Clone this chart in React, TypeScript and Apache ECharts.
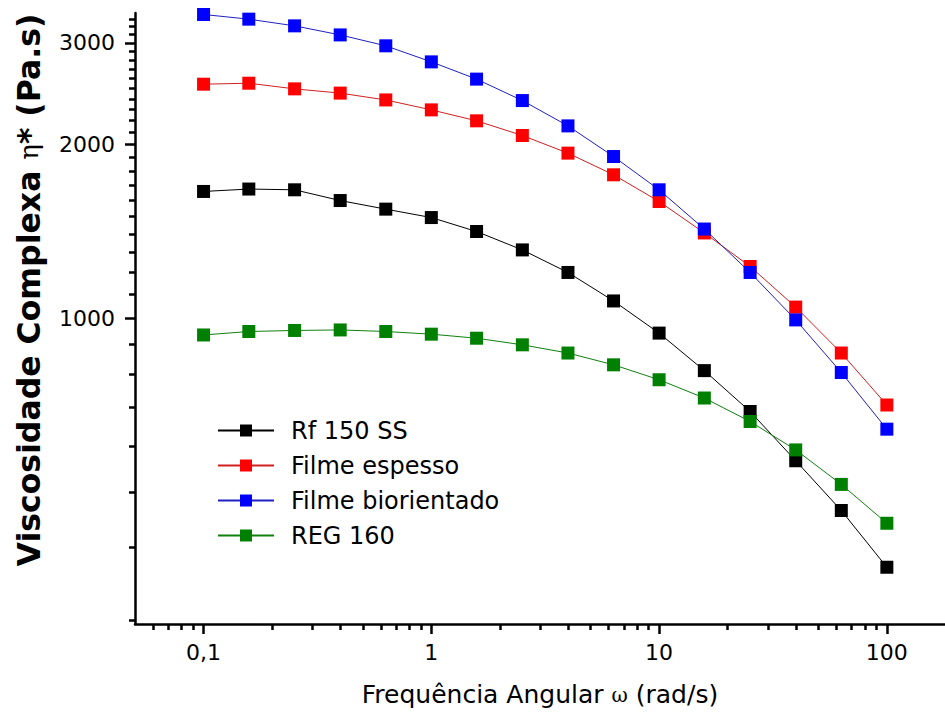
import React, { useEffect, useRef } from 'react';
import * as echarts from 'echarts';

// Angular frequency (rad/s)
const frequencies = [0.1, 0.158, 0.251, 0.398, 0.631, 1, 1.58, 2.51, 3.98, 6.31, 10, 15.8, 25.1, 39.8, 63.1, 100];

// Complex viscosity (Pa.s)
const rf150ss = [1658, 1674, 1669, 1599, 1545, 1494, 1413, 1313, 1200, 1071, 942, 811, 689, 566, 464, 370];
const filmeEspesso = [2544, 2554, 2497, 2455, 2389, 2296, 2198, 2073, 1932, 1772, 1593, 1405, 1229, 1045, 870, 707];
const filmeBiorientado = [3360, 3298, 3211, 3097, 2965, 2781, 2596, 2383, 2154, 1906, 1669, 1427, 1200, 993, 805, 642];
const reg160 = [935, 948, 952, 954, 948, 938, 923, 899, 870, 830, 782, 727, 662, 591, 515, 441];

const seriesNames = ['Rf 150 SS', 'Filme espesso', 'Filme biorientado', 'REG 160'];
const markerColors = ['#000000', '#ff0000', '#0000ff', '#008000'];
const lineColors = ['#000000', '#d02020', '#2020c0', '#108010'];

// Axis ticks
const xMajorTicks = [0.1, 1, 10, 100];
const xMinorTicks = [0.06, 0.07, 0.08, 0.09, 0.2, 0.3, 0.4, 0.5, 0.6, 0.7, 0.8, 0.9, 2, 3, 4, 5, 6, 7, 8, 9, 20, 30, 40, 50, 60, 70, 80, 90];
const yMajorTicks = [1000, 2000, 3000];
const yMinorTicks = [300, 400, 500, 600, 700, 800, 900, 1100, 1200, 1300, 1400, 1500, 1600, 1700, 1800, 1900, 2100, 2200, 2300, 2400, 2500, 2600, 2700, 2800, 2900, 3100, 3200, 3300];

const X_MIN = 0.05;
const X_MAX = 180;
const Y_MIN = 295;
const Y_MAX = 3380;

export default function App() {
  const ref = useRef<HTMLDivElement>(null);

  useEffect(() => {
    document.body.style.margin = '0';
    const chart = echarts.init(ref.current as HTMLDivElement, null, { renderer: 'svg' });
    const font = 'DejaVu Sans';
    const allValues = [rf150ss, filmeEspesso, filmeBiorientado, reg160];

    const series = allValues.map((vals, i) => ({
      name: seriesNames[i],
      type: 'line',
      xAxisIndex: 0,
      yAxisIndex: 0,
      data: frequencies.map((f, j) => [f, vals[j]]),
      symbol: 'rect',
      symbolSize: 13,
      showSymbol: true,
      clip: false,
      itemStyle: { color: markerColors[i] },
      lineStyle: { color: lineColors[i], width: 1 },
      emphasis: { disabled: true },
      z: 2 + i,
    }));

    const axisLineStyle = { show: true, lineStyle: { color: '#000', width: 2.5 } };

    chart.setOption({
      animation: false,
      backgroundColor: '#ffffff',
      grid: { left: 135, right: 0, top: 13, bottom: 94, containLabel: false, outerBoundsMode: 'none' },
      xAxis: [
        {
          type: 'log',
          logBase: 10,
          min: X_MIN,
          max: X_MAX,
          position: 'bottom',
          axisLine: axisLineStyle,
          axisTick: { show: true, inside: false, length: 10, lineStyle: { color: '#000', width: 2.5 }, customValues: xMajorTicks },
          axisLabel: {
            show: true,
            margin: 17,
            customValues: xMajorTicks,
            fontFamily: font,
            fontSize: 22,
            color: '#000',
            formatter: (v: number) => String(v).replace('.', ','),
          },
          splitLine: { show: false },
          minorTick: { show: false },
          name: 'Frequência Angular {s|ω} (rad/s)',
          nameLocation: 'middle',
          nameGap: 58,
          nameTextStyle: {
            fontFamily: font,
            fontSize: 25,
            color: '#000',
            rich: { s: { fontFamily: 'DejaVu Serif', fontSize: 20, color: '#000' } },
          },
        },
        {
          type: 'log',
          logBase: 10,
          min: X_MIN,
          max: X_MAX,
          position: 'bottom',
          axisLine: { show: false },
          axisTick: { show: true, inside: false, length: 6, lineStyle: { color: '#000', width: 2.5 }, customValues: xMinorTicks },
          axisLabel: { show: false },
          splitLine: { show: false },
        },
      ],
      yAxis: [
        {
          type: 'log',
          logBase: 10,
          min: Y_MIN,
          max: Y_MAX,
          position: 'left',
          axisLine: axisLineStyle,
          axisTick: { show: true, inside: false, length: 10, lineStyle: { color: '#000', width: 2.5 }, customValues: yMajorTicks },
          axisLabel: {
            show: true,
            margin: 20,
            customValues: yMajorTicks,
            fontFamily: font,
            fontSize: 22,
            color: '#000',
            formatter: (v: number) => String(Math.round(v)),
          },
          splitLine: { show: false },
          minorTick: { show: false },
        },
        {
          type: 'log',
          logBase: 10,
          min: Y_MIN,
          max: Y_MAX,
          position: 'left',
          offset: 0,
          axisLine: { show: false },
          axisTick: { show: true, inside: false, length: 6, lineStyle: { color: '#000', width: 2.5 }, customValues: yMinorTicks },
          axisLabel: { show: false },
          splitLine: { show: false },
        },
      ],
      legend: {
        show: true,
        orient: 'vertical',
        left: 217,
        top: 417,
        padding: 0,
        itemWidth: 56,
        itemHeight: 15,
        itemGap: 8,
        selectedMode: false,
        data: seriesNames,
        textStyle: { fontFamily: font, fontSize: 24, color: '#000', lineHeight: 27, padding: [0, 0, 0, 12] },
      },
      graphic: [
        {
          type: 'text',
          x: 29,
          y: 290,
          rotation: Math.PI / 2,
          style: {
            text: '{b|Viscosidade Complexa }{g|η}{b|* (Pa.s)}',
            align: 'center',
            verticalAlign: 'middle',
            fill: '#000',
            rich: {
              b: { fontFamily: font, fontWeight: 'bold', fontSize: 31.5, fill: '#000', color: '#000' },
              g: { fontFamily: 'DejaVu Serif', fontSize: 26, fill: '#000', color: '#000' },
            },
          },
        },
      ],
      series,
    });

    return () => {
      chart.dispose();
    };
  }, []);

  return <div ref={ref} style={{ width: 945, height: 718 }} />;
}
